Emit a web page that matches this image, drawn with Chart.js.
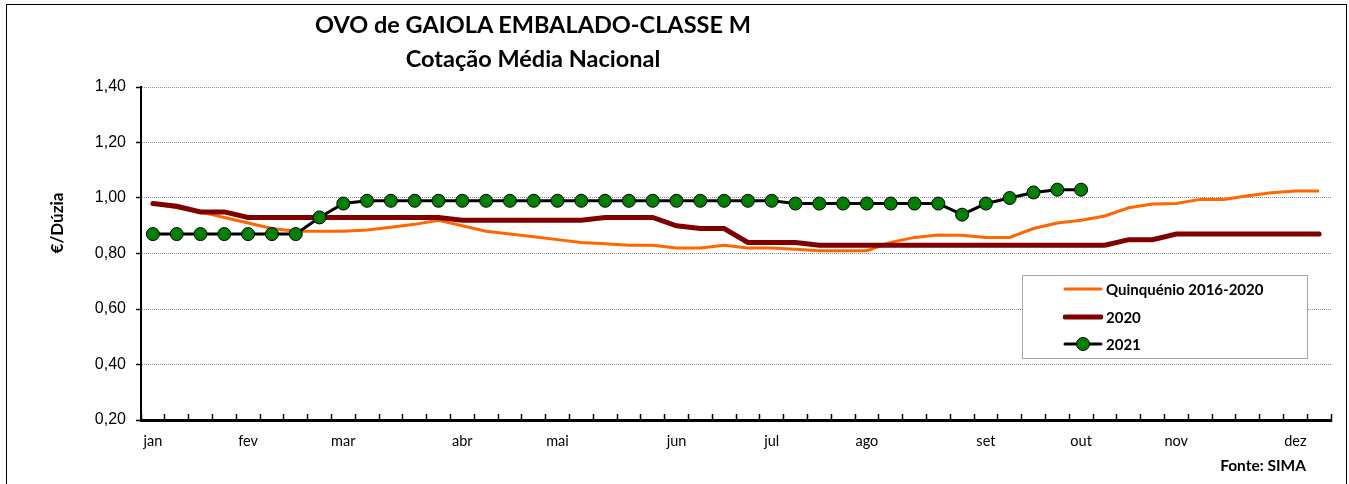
<!DOCTYPE html>
<html lang="pt">
<head>
<meta charset="utf-8">
<title>OVO de GAIOLA EMBALADO-CLASSE M</title>
<script src="https://cdn.jsdelivr.net/npm/chart.js@4.4.1/dist/chart.umd.min.js"></script>
<style>
  html, body { margin: 0; padding: 0; background: #fff; }
  #wrap { position: relative; width: 1349px; height: 484px; overflow: hidden; }
  #frame { position: absolute; left: 6px; top: 4px; width: 1341px; height: 500px; border: 1.5px solid #000; box-sizing: border-box; }
  #chart { position: absolute; left: 0; top: 0; }
  .title { position: absolute; left: 233px; width: 600px; text-align: center; font: bold 23.5px Lato, sans-serif; color: #000; line-height: 34px; }
  #ytitle { position: absolute; left: 56px; top: 223px; transform: translate(-50%, -50%) rotate(-90deg); font: bold 17px Lato, sans-serif; white-space: nowrap; }
  #source { position: absolute; right: 43px; top: 456px; font: bold 15.5px Lato, sans-serif; }
  #legend { position: absolute; left: 1022px; top: 275px; width: 286px; height: 84px; border: 1px solid #a6a6a6; box-sizing: border-box; background: #fff; }
  .row { position: absolute; left: 40px; height: 20px; display: flex; align-items: center; font: bold 15px Lato, sans-serif; }
  .row svg { margin-right: 3px; }
</style>
</head>
<body>
<div id="wrap">
  <canvas id="chart" width="1349" height="484"></canvas>
  <div id="frame"></div>
  <div class="title" style="top:7px">OVO de GAIOLA EMBALADO-CLASSE M</div>
  <div class="title" style="top:41px">Cotação Média Nacional</div>
  <div id="ytitle">€/Dúzia</div>
  <div id="legend"></div>
  <div id="source">Fonte: SIMA</div>
</div>
<script>
// ================================
// Egg price chart (weekly)
// ================================

const monthNames = ['jan', 'fev', 'mar', 'abr', 'mai', 'jun', 'jul', 'ago', 'set', 'out', 'nov', 'dez'];
const monthWeek = [0, 4, 8, 13, 17, 22, 26, 30, 35, 39, 43, 48];
const weekCount = 50;

const yTicks = [0.20, 0.40, 0.60, 0.80, 1.00, 1.20, 1.40];

const quinquenio = [0.98, 0.965, 0.95, 0.93, 0.91, 0.89, 0.88, 0.88, 0.88, 0.885,
    0.895, 0.905, 0.92, 0.90, 0.88, 0.87, 0.86, 0.85, 0.84, 0.835,
    0.83, 0.83, 0.82, 0.82, 0.83, 0.82, 0.82, 0.815, 0.81, 0.81,
    0.81, 0.84, 0.858, 0.867, 0.866, 0.858, 0.858, 0.89, 0.91, 0.92,
    0.935, 0.965, 0.978, 0.98, 0.995, 0.995, 1.008, 1.019, 1.025, 1.025];

const year2020 = [0.98, 0.97, 0.95, 0.95, 0.93, 0.93, 0.93, 0.93, 0.93, 0.93,
    0.93, 0.93, 0.93, 0.92, 0.92, 0.92, 0.92, 0.92, 0.92, 0.93,
    0.93, 0.93, 0.90, 0.89, 0.89, 0.84, 0.84, 0.84, 0.83, 0.83,
    0.83, 0.83, 0.83, 0.83, 0.83, 0.83, 0.83, 0.83, 0.83, 0.83,
    0.83, 0.85, 0.85, 0.87, 0.87, 0.87, 0.87, 0.87, 0.87, 0.87];

const year2021 = [0.87, 0.87, 0.87, 0.87, 0.87, 0.87, 0.87, 0.93, 0.98, 0.99,
    0.99, 0.99, 0.99, 0.99, 0.99, 0.99, 0.99, 0.99, 0.99, 0.99,
    0.99, 0.99, 0.99, 0.99, 0.99, 0.99, 0.99, 0.98, 0.98, 0.98,
    0.98, 0.98, 0.98, 0.98, 0.94, 0.98, 1.00, 1.02, 1.03, 1.03];

// week labels: month name on its first week, blank otherwise
const weekLabels = [];
for (let i = 0; i < weekCount; i++) {
    const m = monthWeek.indexOf(i);
    weekLabels.push(m >= 0 ? monthNames[m] : '');
}

const datasets = [
    {
        label: 'Quinquénio 2016-2020',
        data: quinquenio,
        borderColor: '#ff6600',
        borderWidth: 3,
        pointRadius: 0,
        order: 3
    },
    {
        label: '2020',
        data: year2020,
        borderColor: '#800000',
        borderWidth: 5,
        pointRadius: 0,
        borderCapStyle: 'round',
        order: 2
    },
    {
        label: '2021',
        data: year2021,
        borderColor: '#000000',
        borderWidth: 3,
        pointRadius: 6.5,
        pointBackgroundColor: '#008000',
        pointBorderColor: '#000000',
        pointBorderWidth: 1,
        order: 1
    }
];

Chart.defaults.color = '#000';

const chart = new Chart(document.getElementById('chart'), {
    type: 'line',
    data: { labels: weekLabels, datasets: datasets },
    options: {
        responsive: false,
        animation: false,
        events: [],
        layout: { padding: { left: 0, right: 18, top: 87, bottom: 0 } },
        elements: { line: { tension: 0 } },
        plugins: {
            legend: { display: false },
            title: { display: false },
            tooltip: { enabled: false }
        },
        scales: {
            x: {
                type: 'category',
                offset: true,
                grid: {
                    display: true,
                    drawOnChartArea: false,
                    drawTicks: true,
                    tickLength: -6,
                    tickColor: '#000',
                    tickWidth: 1.5,
                    offset: true
                },
                border: { color: '#000', width: 3 },
                ticks: {
                    autoSkip: false,
                    maxRotation: 0,
                    minRotation: 0,
                    padding: 19,
                    font: { family: 'Lato', size: 14.5 }
                },
                afterFit: (s) => { s.height = 64; }
            },
            y: {
                min: 0.2,
                max: 1.4,
                afterBuildTicks: (s) => { s.ticks = yTicks.map(v => ({ value: v })); },
                ticks: {
                    padding: 10,
                    font: { family: 'Liberation Sans', size: 16 },
                    callback: (v) => Number(v).toFixed(2).replace('.', ',')
                },
                grid: {
                    color: '#8c8c8c',
                    lineWidth: 1,
                    tickColor: '#000',
                    tickLength: 5,
                    tickWidth: 1.5,
                    tickBorderDash: []
                },
                border: { color: '#000', width: 2, dash: [1, 1] },
                afterFit: (s) => { s.width = 141; }
            }
        }
    }
});

// Build legend from the datasets (order as in the reference)
function legendSample(ds) {
    let svg = `<svg width="40" height="16" viewBox="0 0 40 16">` +
        `<line x1="2" y1="8" x2="38" y2="8" stroke="${ds.borderColor}" stroke-width="${ds.borderWidth}" stroke-linecap="round"/>`;
    if (ds.pointRadius) {
        svg += `<circle cx="20" cy="8" r="${ds.pointRadius}" fill="${ds.pointBackgroundColor}" stroke="${ds.pointBorderColor}" stroke-width="1"/>`;
    }
    return svg + '</svg>';
}

const legend = document.getElementById('legend');
const rowTops = [3, 31, 58];
datasets.forEach((ds, i) => {
    const row = document.createElement('div');
    row.className = 'row';
    row.style.top = rowTops[i] + 'px';
    row.innerHTML = legendSample(ds) + '<span>' + ds.label + '</span>';
    legend.appendChild(row);
});
</script>
</body>
</html>
